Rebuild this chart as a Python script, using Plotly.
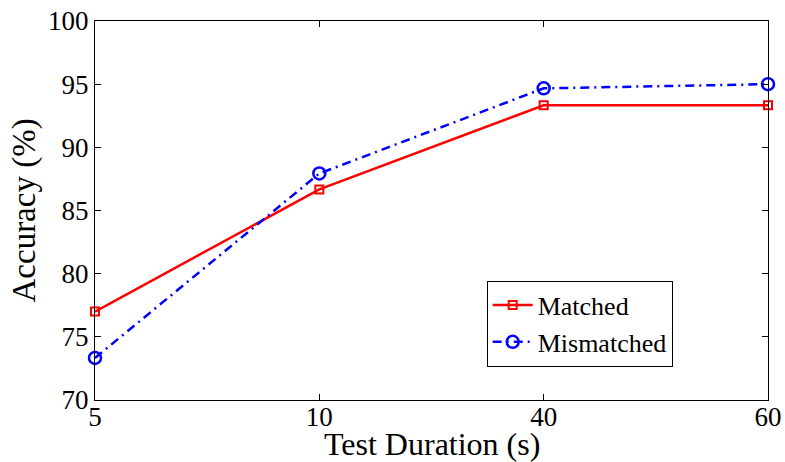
import plotly.graph_objects as go

durations = ["5", "10", "40", "60"]
matched = [77.0, 86.67, 93.33, 93.33]
mismatched = [73.33, 87.93, 94.67, 95.0]
y_ticks = [70, 75, 80, 85, 90, 95, 100]

xpos = list(range(len(durations)))
font = dict(family="Liberation Serif, Times New Roman, serif", color="black")

fig = go.Figure()
fig.add_trace(go.Scatter(
    x=xpos, y=matched, name="Matched", mode="lines+markers",
    line=dict(color="#ff0000", width=2.5),
    marker=dict(symbol="square-open", size=8, color="#ff0000", line=dict(width=2)),
    cliponaxis=False,
))
fig.add_trace(go.Scatter(
    x=xpos, y=mismatched, name="Mismatched", mode="lines+markers",
    line=dict(color="#0000ff", width=2.5, dash="9px,5px,2px,5px"),
    marker=dict(symbol="circle-open", size=12, color="#0000ff", line=dict(width=2.5)),
    cliponaxis=False,
))

axis_common = dict(
    showline=True, linecolor="black", linewidth=1.2, mirror="ticks",
    ticks="inside", ticklen=6, tickcolor="black", tickwidth=1,
    showgrid=False, zeroline=False, automargin=False,
    tickfont=dict(size=27, **font),
)
fig.update_xaxes(
    range=[0, 3], tickvals=xpos, ticktext=durations,
    ticklabelstandoff=-8,
    **axis_common,
)
fig.update_yaxes(
    range=[70, 100], tickvals=y_ticks,
    **axis_common,
)

# axis titles placed as annotations for tight positioning
fig.add_annotation(
    text="Test Duration (s)", xref="paper", yref="paper", x=0.5, y=0,
    xanchor="center", yanchor="middle", yshift=-44, showarrow=False,
    font=dict(size=32, **font),
)
fig.add_annotation(
    text="Accuracy (%)", xref="paper", yref="paper", x=0, y=0.5,
    xanchor="center", yanchor="middle", xshift=-71, textangle=-90,
    showarrow=False, font=dict(size=33, **font),
)

fig.update_layout(
    width=785, height=462,
    margin=dict(l=95, r=17, t=21, b=62),
    plot_bgcolor="white", paper_bgcolor="white",
    legend=dict(
        x=0.582, y=0.315, xanchor="left", yanchor="top",
        bordercolor="black", borderwidth=1, bgcolor="white",
        font=dict(size=26, **font), tracegroupgap=0,
        itemwidth=40,
    ),
)
fig.write_html("out.html")
